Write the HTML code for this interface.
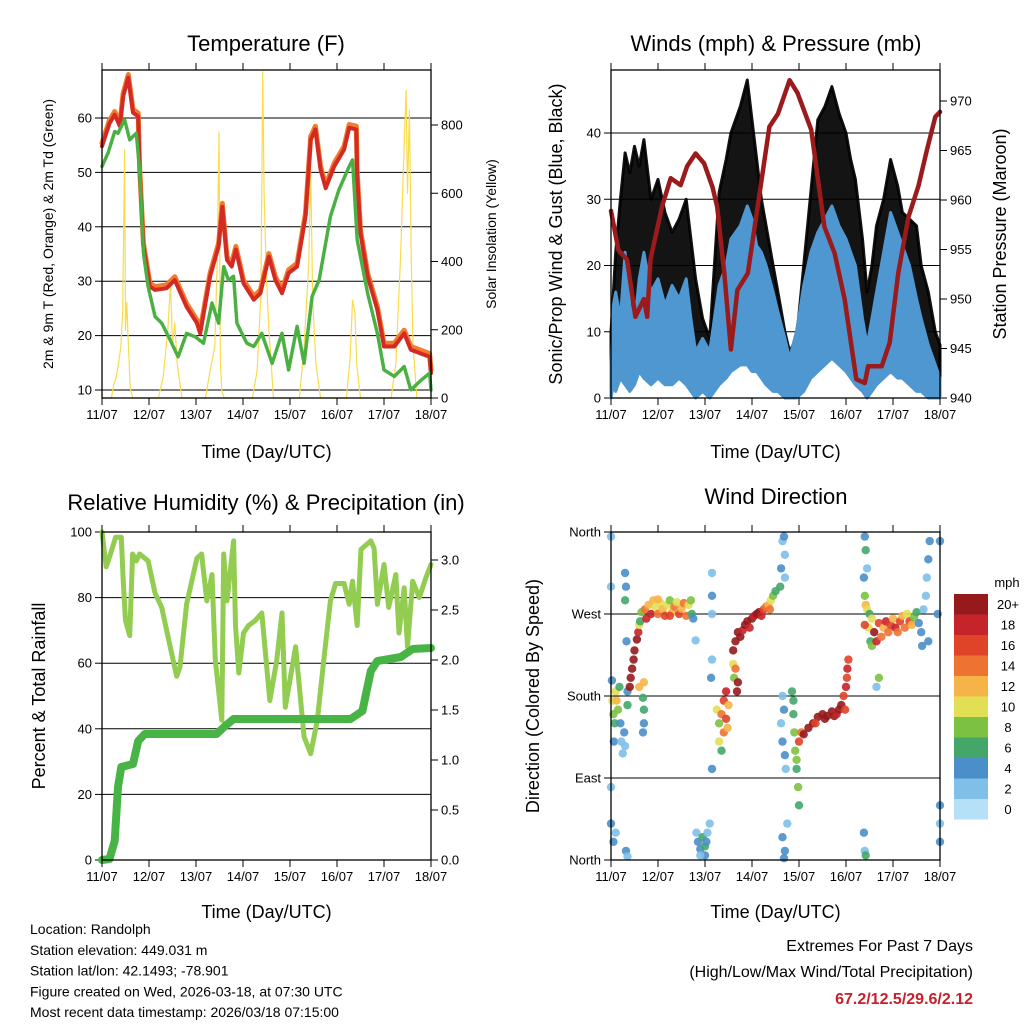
<!DOCTYPE html>
<html><head><meta charset="utf-8"><style>
html,body{margin:0;padding:0;background:#fff;}
svg{display:block;font-family:"Liberation Sans",Arial,sans-serif;}
</style></head><body>
<svg id="c" width="1024" height="1024" viewBox="0 0 1024 1024"></svg>
<script>
// ---------- Temperature panel data ----------
const tempTimes=[0,0.16,0.27,0.38,0.45,0.56,0.66,0.77,0.8,0.88,1.02,1.13,1.37,1.55,1.8,2.02,2.09,2.3,2.48,2.56,2.66,2.76,2.85,3.01,3.23,3.37,3.55,3.69,3.83,3.97,4.15,4.33,4.44,4.54,4.65,4.76,4.94,5.15,5.26,5.41,5.43,5.5,5.65,5.86,6.0,6.22,6.43,6.57,6.79,6.97,7];
const tempValues=[54.8,59,60.6,58.5,64,67.4,61,60.3,50.5,36.4,29,28.4,28.7,30.2,25.3,22.3,20.4,30.9,36.4,43.7,33.9,32.7,35.8,29.6,26.6,27.8,34.5,30.2,27.8,31.5,32.7,41.9,56,57.9,50.5,47.1,51.1,54.2,58.2,57.9,49.3,38.8,30.9,24.7,18,18,20.4,17.4,16.7,16.1,13.1];
const dewTimes=[0,0.13,0.27,0.34,0.48,0.59,0.73,0.8,0.88,0.98,1.13,1.27,1.45,1.62,1.8,1.98,2.16,2.34,2.48,2.59,2.69,2.8,2.87,3.08,3.23,3.4,3.62,3.83,3.97,4.15,4.3,4.47,4.62,4.86,5.04,5.26,5.33,5.43,5.65,5.86,6.0,6.22,6.43,6.57,6.79,6.97,7];
const dewValues=[51.1,53.6,57.5,57.2,59.7,56,57.2,50.5,35.2,29,23.5,22.3,19.2,16.1,20.4,19.8,18.6,26,22.3,32.7,30.2,30.9,22.3,18.6,18,20.4,14.9,20.4,13.7,21.7,14.9,27.2,30.2,41.9,46.8,51.1,52.3,37.6,27.8,20.4,13.7,12.5,14.3,10,11.8,13.1,10];
const solarTimes=[0,0.2,0.25,0.3,0.35,0.4,0.44,0.48,0.5,0.53,0.55,0.6,0.65,1.2,1.3,1.4,1.46,1.5,1.55,1.6,1.7,2.2,2.3,2.4,2.45,2.49,2.52,2.55,2.6,3.2,3.3,3.38,3.42,3.45,3.5,3.55,3.65,4.2,4.3,4.4,4.44,4.48,4.55,4.65,5.2,5.28,5.33,5.38,5.42,5.5,6.15,6.25,6.35,6.42,6.47,6.5,6.54,6.58,6.62,6.7,7];
const solarValues=[0,0,40,60,100,150,250,727,200,280,200,30,0,0,60,200,340,150,220,100,0,0,80,150,400,780,100,20,0,0,80,300,956,600,350,200,0,0,150,400,668,300,100,0,0,120,287,250,100,0,0,100,400,700,902,600,843,400,150,0,0];
const tempTicks=[10,20,30,40,50,60];
const solarTicks=[0,200,400,600,800];
// ---------- Winds panel data ----------
const windTimes=[0,0.05,0.1,0.2,0.3,0.4,0.5,0.6,0.7,0.85,1.0,1.15,1.3,1.45,1.6,1.7,1.8,1.95,2.1,2.2,2.3,2.45,2.55,2.75,2.9,3.0,3.1,3.2,3.3,3.45,3.55,3.7,3.8,3.95,4.1,4.25,4.4,4.55,4.7,4.85,5.0,5.1,5.2,5.35,5.45,5.55,5.65,5.8,5.95,6.1,6.2,6.35,6.5,6.6,6.75,6.9,7];
const gustHigh=[10,16,22,30,37,34,38,35,39,30,33,28,25,27,30,24,18,12,9,20,31,36,40,44,48,42,36,30,26,20,16,10,7,9,20,31,42,44,47,43,40,36,33,24,16,20,26,30,36,32,28,27,26,20,16,10,8];
const windHigh=[5,14,16,12,22,14,11,18,22,16,18,14,17,15,18,12,7,9,7,12,17,20,24,26,29,27,23,22,20,16,13,9,6,10,17,22,25,27,29,26,24,22,20,12,8,12,16,22,28,25,23,20,15,12,8,5,3];
const windLow=[0,2,1,3,2,1,2,4,3,2,3,2,2,3,2,1,0,1,0,1,2,3,4,5,5,4,4,3,2,1,1,0,0,0,1,3,4,5,6,5,4,3,2,1,0,1,2,3,4,3,3,2,1,1,0,0,0];
const presTimes=[0,0.16,0.34,0.52,0.7,0.77,0.84,1.09,1.27,1.48,1.62,1.8,1.98,2.16,2.26,2.41,2.55,2.69,2.91,3.12,3.37,3.55,3.8,3.97,4.26,4.54,4.76,4.97,5.22,5.4,5.47,5.76,5.93,6.11,6.33,6.54,6.72,6.9,7];
const presValues=[958.9,954.9,954,948.2,950,948.2,954,959.4,962.2,961.5,963.4,964.7,963.7,961.3,959.3,952.6,944.9,950.9,952.6,959.3,967.4,968.7,972.1,970.8,967.1,957.3,954.6,950,941.9,941.5,943.2,943.2,945.6,952.6,958.3,961.4,965,968.4,968.9];
const windTicks=[0,10,20,30,40];
const presTicks=[940,945,950,955,960,965,970];
// ---------- RH panel data ----------
const rhTimes=[0,0.09,0.18,0.29,0.41,0.45,0.5,0.59,0.65,0.73,0.8,0.98,1.13,1.27,1.45,1.59,1.66,1.8,2.02,2.12,2.23,2.34,2.41,2.55,2.59,2.66,2.8,2.84,2.91,3.01,3.12,3.26,3.4,3.57,3.72,3.83,3.9,4.12,4.3,4.44,4.58,4.72,4.86,4.97,5.15,5.26,5.33,5.43,5.51,5.72,5.79,5.86,6.0,6.1,6.25,6.32,6.43,6.5,6.61,6.75,6.89,7];
const rhValues=[100,89.4,93.3,98.4,98.4,85.3,73,68.4,93.3,91.2,93.3,91.2,81.3,77,65,56,58.9,78,92,93.3,79,87,61,42.6,93.3,79,97.3,71.5,57,69.2,71.5,73,75.3,48.6,61,75.3,46.6,65,37.5,32.4,42.6,61,79,84.3,84.3,78,85,71.5,94.7,97.3,95,78,90.1,77,87,69.2,83,65,85,80,86,90.1];
const rainTimes=[0,0.16,0.27,0.3,0.34,0.41,0.66,0.77,0.91,2.44,2.62,2.8,5.29,5.54,5.72,5.86,6.36,6.61,7];
const rainValues=[0,0.01,0.19,0.42,0.73,0.93,0.96,1.19,1.26,1.26,1.34,1.41,1.41,1.49,1.89,1.99,2.03,2.11,2.12];
const rhTicks=[0,20,40,60,80,100];
const rainTicks=[0.0,0.5,1.0,1.5,2.0,2.5,3.0];
// ---------- Wind direction data ----------
const dirTimes=[0.02,0.03,0.05,0.08,0.06,0.1,0.12,0.15,0.18,0.2,0.22,0.25,0.28,0.3,0,0,0,0,0.05,0.1,0.3,0.32,0.3,0.33,0.35,0.35,0.32,0.35,
0.4,0.42,0.45,0.48,0.5,0.55,0.58,0.6,0.62,0.6,0.7,0.68,0.7,0.7,0.68,
0.65,0.72,0.8,0.85,0.9,0.95,1.0,1.05,1.1,1.15,1.2,1.25,1.3,1.35,1.4,1.45,1.5,1.55,1.6,1.65,1.7,1.72,1.75,1.8,0.75,1.0,1.25,
1.82,1.85,1.9,1.95,2.0,2.0,2.05,1.9,2.03,2.1,2.15,2.15,2.15,2.15,2.13,2.15,
2.25,2.3,2.3,2.35,2.4,2.45,2.5,2.4,2.35,2.45,2.48,
2.6,2.65,2.7,2.75,2.8,2.85,2.9,2.95,3.0,3.05,3.1,3.15,3.2,3.25,3.3,3.35,3.4,3.45,3.5,2.6,2.62,2.65,2.7,2.68,3.38,
3.65,3.68,3.7,3.62,3.7,3.6,3.65,3.68,3.62,3.65,3.7,3.72,3.65,3.7,3.68,3.75,
3.85,3.88,3.9,3.92,3.95,3.98,4.0,3.88,3.95,
4.0,4.05,4.1,4.2,4.3,4.4,4.5,4.6,4.7,4.75,4.8,4.85,4.9,4.95,5.0,5.02,5.03,4.98,5.05,4.35,4.55,
5.4,5.42,5.45,5.38,5.4,5.42,5.45,5.5,5.55,5.48,5.52,5.55,5.4,5.42,5.38,5.4,
5.6,5.65,5.7,5.75,5.8,5.85,5.9,5.95,6.0,6.05,6.1,6.15,6.2,6.25,6.3,6.35,6.4,6.45,6.5,6.55,6.6,6.62,6.65,6.7,6.72,6.75,6.78,6.75,5.65,5.7,7.0,7.0,7.0,7.0,6.95];
const dirValues=[197,175,160,150,130,185,175,165,190,150,130,117,140,125,355,300,80,40,20,30,315,300,285,240,185,170,10,4,
190,200,210,220,230,242,250,258,262,190,195,178,165,150,140,
272,275,280,270,285,278,270,282,275,268,280,285,272,278,283,270,276,282,268,280,285,270,265,241,265,286,268,
30,20,12,25,15,5,30,5,20,40,315,290,270,220,200,100,
165,150,130,160,175,185,170,140,120,155,145,
230,240,250,245,252,258,262,255,265,268,270,272,268,275,278,280,285,290,295,215,200,210,195,185,275,
350,355,335,320,310,300,180,165,150,130,115,100,25,10,2,40,
185,160,140,120,100,80,60,175,110,
130,140,138,145,150,157,160,158,163,158,160,165,170,180,190,200,210,165,220,150,155,
355,340,320,310,290,280,275,270,265,255,240,235,10,5,30,258,
250,240,260,245,255,262,250,258,265,255,250,262,268,255,270,262,258,266,272,260,250,235,275,290,310,330,350,240,190,200,60,40,20,350,270];
const dirSpeeds=[4,10,8,6,4,10,12,8,6,5,3,2,4,3,2,2,2,4,4,2,4,4,6,4,4,6,4,2,
20,20,20,20,20,20,18,10,6,12,12,6,6,4,4,
8,14,12,18,12,10,14,10,12,16,10,9,12,14,10,16,12,14,14,10,8,6,4,3,18,12,16,
2,4,4,6,6,4,2,2,5,2,2,4,2,2,4,4,
10,8,10,14,16,18,12,14,6,16,12,
20,20,20,20,18,20,20,18,20,18,20,20,18,16,14,12,10,8,6,10,8,14,20,20,14,
2,4,2,4,2,6,2,4,2,4,4,2,4,4,4,2,
6,6,8,8,6,8,6,6,8,
16,14,20,20,20,20,20,20,20,20,18,20,20,16,18,16,18,16,16,16,20,
4,6,2,4,8,12,10,6,10,10,6,8,2,6,4,16,
20,18,16,14,12,18,14,16,12,18,14,16,12,14,10,16,12,8,6,4,4,4,2,2,2,4,4,4,2,8,4,2,4,4,4];
const speedLabels=["0","2","4","6","8","10","12","14","16","18","20+"];
const speedColors=["#b6e0f7","#7fbfe8","#4a8fc9","#45a66a","#7dc142","#e3df55","#f6b448","#ee7232","#df4429","#c5242a","#961a1c"];
const dirTicks=[0,90,180,270,360];
const dirTickLabels=["North","East","South","West","North"];
const dayLabels=["11/07","12/07","13/07","14/07","15/07","16/07","17/07","18/07"];

const NS="http://www.w3.org/2000/svg";
const svg=document.getElementById('c');
function el(tag,attrs,parent,text){const e=document.createElementNS(NS,tag);for(const k in attrs)e.setAttribute(k,attrs[k]);if(text!==undefined)e.textContent=text;(parent||svg).appendChild(e);return e;}
function lin(d0,d1,r0,r1){return v=>r0+(v-d0)*(r1-r0)/(d1-d0);}

function panel(name,x0,y0,x1,y1){
  const g=el('g',{},svg);
  
  
  return {g,x0,y0,x1,y1,x:lin(0,7,x0,x1)};
}
function frame(p){
  const r=el('rect',{x:p.x0,y:p.y0,width:p.x1-p.x0,height:p.y1-p.y0,fill:'none',stroke:'#000','stroke-width':1.3},p.g);
  
  
}
function xAxis(p,titleY){
  const g=el('g',{},p.g);
  
  
  for(let d=0;d<=7;d++){
    const x=p.x(d);
    el('line',{x1:x,y1:p.y1,x2:x,y2:p.y1+7,stroke:'#000'},g);
    el('line',{x1:x,y1:p.y0,x2:x,y2:p.y0-7,stroke:'#000'},g);
    const t=el('text',{x:x,y:p.y1+21,'font-size':13,'text-anchor':'middle'},g,dayLabels[d]);
    
    
  }
  const tt=el('text',{x:(p.x0+p.x1)/2,y:titleY,'font-size':18,'text-anchor':'middle'},g,'Time (Day/UTC)');
  
  
}
function yAxis(p,ticks,labels,scale,side,grid,fs){
  const g=el('g',{},p.g);
  
  
  ticks.forEach((v,i)=>{
    const y=scale(v);
    if(grid) el('line',{x1:p.x0,y1:y,x2:p.x1,y2:y,stroke:'#000','stroke-width':1},g);
    if(side==='left'){
      el('line',{x1:p.x0-7,y1:y,x2:p.x0,y2:y,stroke:'#000'},g);
      const t=el('text',{x:p.x0-10,y:y+4.5,'font-size':fs||13,'text-anchor':'end'},g,labels[i]);
      
      
    } else {
      el('line',{x1:p.x1,y1:y,x2:p.x1+7,y2:y,stroke:'#000'},g);
      const t=el('text',{x:p.x1+10,y:y+4.5,'font-size':fs||13,'text-anchor':'start'},g,labels[i]);
      
      
    }
  });
}
function title(text,x,y,name){
  const t=el('text',{x:x,y:y,'font-size':22,'text-anchor':'middle'},svg,text);
  
  
}
function vtitle(text,x,y,fs,name){
  const t=el('text',{x:x,y:y,'font-size':fs,'text-anchor':'middle',transform:`rotate(-90 ${x} ${y})`},svg,text);
  
  
}
function line(p,ts,vs,ys,stroke,w,name,dash){
  const pts=ts.map((t,i)=>p.x(t).toFixed(1)+','+ys(vs[i]).toFixed(1)).join(' ');
  const a={points:pts,fill:'none',stroke:stroke,'stroke-width':w,'stroke-linejoin':'round','stroke-linecap':'round'};
  if(dash)a['stroke-dasharray']=dash;
  const l=el('polyline',a,p.g);
  
  
}
function band(p,ts,lo,hi,ys,fill,name,op){
  let d='M'+ts.map((t,i)=>p.x(t).toFixed(1)+','+ys(hi[i]).toFixed(1)).join(' L');
  for(let i=ts.length-1;i>=0;i--)d+=' L'+p.x(ts[i]).toFixed(1)+','+ys(lo[i]).toFixed(1);
  d+='Z';
  const b=el('path',{d:d,fill:fill,stroke:fill,'stroke-width':3,'stroke-linejoin':'round','fill-opacity':op||1,'stroke-opacity':op||1},p.g);
  
  
}

// ===== Panel 1: Temperature =====
title('Temperature (F)',266,51,'temperature-title');
const p1=panel('temperature-panel',102,70,431,398);
const yT=lin(10,60,390,118), yS=lin(0,800,398,125);
yAxis(p1,tempTicks,tempTicks.map(String),yT,'left',true);
yAxis(p1,solarTicks,solarTicks.map(String),yS,'right',false);
line(p1,solarTimes,solarValues,yS,'#f9dc4a',1.2,'solar-insolation-line');
line(p1,tempTimes,tempValues.map(v=>v+0.6),yT,'#f07c2e',5,'temperature-9m-line');
line(p1,tempTimes,tempValues,yT,'#d42a24',4,'temperature-2m-line');
line(p1,dewTimes,dewValues,yT,'#4bb043',3.5,'dewpoint-line','3 1.5');
frame(p1); xAxis(p1,458);
vtitle('2m & 9m T (Red, Orange) & 2m Td (Green)',53,234,14,'temperature-y-title');
vtitle('Solar Insolation (Yellow)',496,234,14,'solar-y-title');

// ===== Panel 2: Winds =====
title('Winds (mph) & Pressure (mb)',776,51,'winds-title');
const p2=panel('winds-panel',611,70,940,398);
const yW=lin(0,40,398,133), yP=lin(940,970,398,101);
yAxis(p2,windTicks,windTicks.map(String),yW,'left',true);
yAxis(p2,presTicks,presTicks.map(String),yP,'right',false);
band(p2,windTimes,windHigh,gustHigh,yW,'#000','gust-scatter-band',0.92);
band(p2,windTimes,windLow,windHigh,yW,'#4f97d0','sonic-wind-band');
line(p2,presTimes,presValues,yP,'#9b1b1d',4.5,'pressure-line');
frame(p2); xAxis(p2,458);
vtitle('Sonic/Prop Wind & Gust (Blue, Black)',562,234,18,'winds-y-title');
vtitle('Station Pressure (Maroon)',1006,234,18,'pressure-y-title');

// ===== Panel 3: RH & Precip =====
title('Relative Humidity (%) & Precipitation (in)',266,510,'humidity-title');
const p3=panel('humidity-panel',102,532,431,860);
const yR=lin(0,100,860,532), yRain=lin(0,3,860,560);
yAxis(p3,rhTicks,rhTicks.map(String),yR,'left',true);
yAxis(p3,rainTicks,rainTicks.map(v=>v.toFixed(1)),yRain,'right',false);
line(p3,rhTimes,rhValues,yR,'#92cc50',5,'relative-humidity-line');
line(p3,rainTimes,rainValues,yRain,'#48b446',8,'precipitation-line');
frame(p3); xAxis(p3,918);
vtitle('Percent & Total Rainfall',45,696,18,'humidity-y-title');

// ===== Panel 4: Wind direction =====
title('Wind Direction',776,504,'wind-direction-title');
const p4=panel('wind-direction-panel',611,532,940,860);
const yD=lin(0,360,860,532);
yAxis(p4,dirTicks,dirTickLabels,yD,'left',true);
dirTimes.forEach((t,i)=>{
  const idx=Math.min(10,Math.floor(dirSpeeds[i]/2));
  const c=el('circle',{cx:p4.x(t).toFixed(1),cy:yD(dirValues[i]).toFixed(1),r:4.2,fill:speedColors[idx],'fill-opacity':0.9},p4.g);
  
  
});
frame(p4); xAxis(p4,918);
vtitle('Direction (Colored By Speed)',539,696,18,'wind-direction-y-title');
// colorbar
const cb=el('g',{},svg);


el('text',{x:1007,y:587,'font-size':13,'text-anchor':'middle'},cb,'mph');
for(let i=0;i<11;i++){
  const k=10-i, y=594+i*20.5;
  const r=el('rect',{x:954,y:y,width:34,height:20.5,fill:speedColors[k]},cb);
  
  
  const t=el('text',{x:1008,y:y+15,'font-size':13,'text-anchor':'middle'},cb,speedLabels[k]);
  
  
}

// ===== Footer text =====
const info=["Location: Randolph","Station elevation: 449.031 m","Station lat/lon: 42.1493; -78.901","Figure created on Wed, 2026-03-18, at 07:30 UTC","Most recent data timestamp: 2026/03/18 07:15:00"];
info.forEach((s,i)=>{
  const t=el('text',{x:30,y:934+i*20.8,'font-size':14},svg,s);
  
  
});
const e1=el('text',{x:973,y:951,'font-size':16,'text-anchor':'end'},svg,'Extremes For Past 7 Days');


const e2=el('text',{x:973,y:977,'font-size':16,'text-anchor':'end'},svg,'(High/Low/Max Wind/Total Precipitation)');


const e3=el('text',{x:973,y:1004,'font-size':16,'text-anchor':'end','font-weight':'bold',fill:'#c8202a'},svg,'67.2/12.5/29.6/2.12');


</script>
</body></html>
